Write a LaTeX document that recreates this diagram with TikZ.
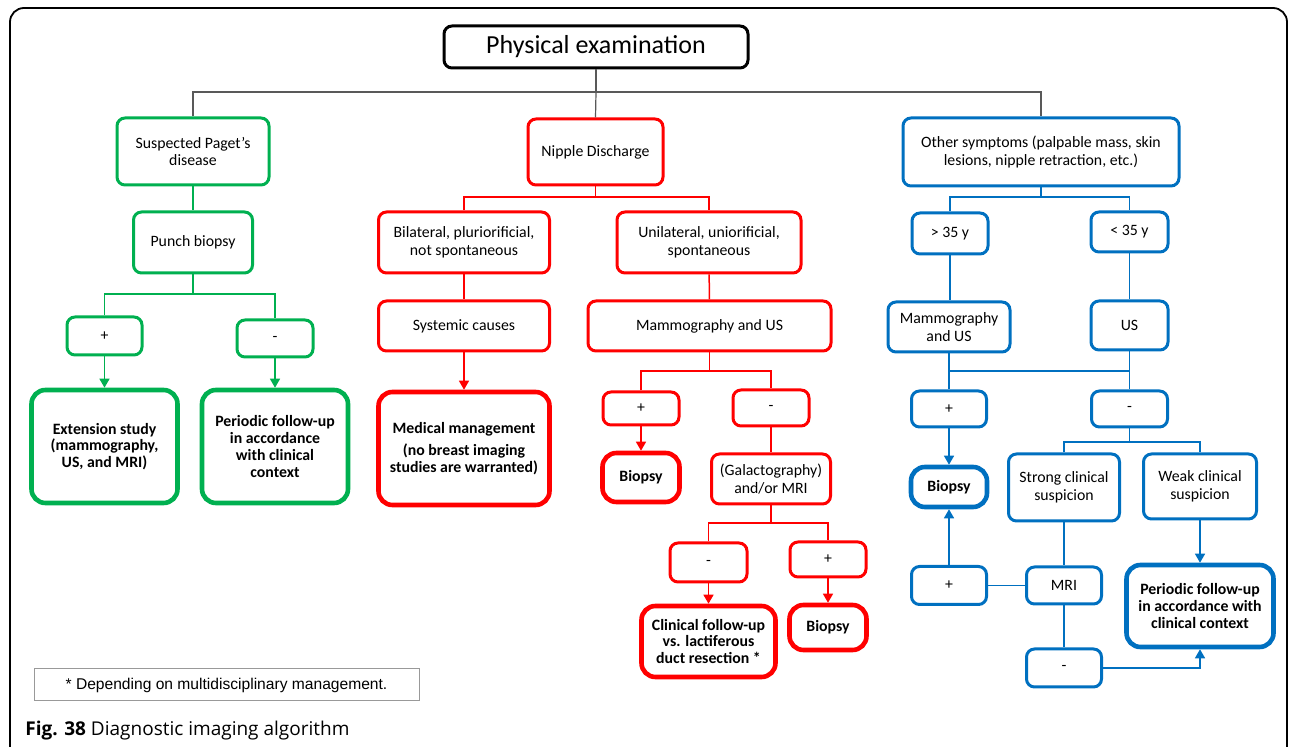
\documentclass[tikz,border=0pt]{standalone}
\usepackage{fontspec}
\setmainfont{Carlito}
\newfontfamily\arialfont{Liberation Sans}
\newfontfamily\capfont{Open Sans}
\usetikzlibrary{arrows.meta}
\definecolor{gg}{HTML}{00B050}
\definecolor{rr}{HTML}{FF0000}
\definecolor{bb}{HTML}{0070C0}
\definecolor{cg}{HTML}{595959}
\tikzset{
  base/.style={draw, rounded corners=4pt, line width=1.5pt, align=center, inner sep=0pt, fill=white,
    font=\fontsize{7.9}{8.9}\selectfont},
  sz/.style 2 args={minimum width=#1*0.5pt, minimum height=#2*0.5pt},
  res/.style={line width=2.3pt, rounded corners=7pt, font=\fontsize{7.9}{8.4}\selectfont\bfseries},
  gbox/.style={base, draw=gg},
  rbox/.style={base, draw=rr},
  bbox/.style={base, draw=bb},
  gl/.style={draw=gg, line width=0.75pt},
  rl/.style={draw=rr, line width=0.75pt},
  bl/.style={draw=bb, line width=0.75pt},
  kl/.style={draw=cg, line width=0.6pt},
  arr/.style={-{Triangle[width=5pt,length=4.5pt]}},
}
\begin{document}
\begin{tikzpicture}[x=0.5pt, y=-0.5pt]
\useasboundingbox (0,0) rectangle (1290,747);
\begin{scope}
\clip (0,0) rectangle (1290,747);
\draw[line width=0.9pt, rounded corners=7pt] (10,770) -- (10,8) -- (1287,8) -- (1287,770);
\end{scope}

% top
\node[base, draw=black, line width=1.5pt, rounded corners=4pt, sz={304}{42}, font=\fontsize{13}{14}\selectfont] (phys) at (596,47) {Physical examination};

% green column
\node[gbox, sz={152}{67}] (paget) at (193,151.5) {Suspected Paget’s\\disease};
\node[gbox, sz={119}{61}] (punch) at (193,242.5) {Punch biopsy};
\node[gbox, sz={75}{38}] (gp) at (104.5,336) {+};
\node[gbox, sz={76}{37}] (gm) at (275,338.5) {-};
\node[gbox, res, sz={146}{113}] (ext) at (104.5,446.5) {Extension study\\(mammography,\\US, and MRI)};
\node[gbox, res, sz={146}{113}] (gper) at (275,446.5) {Periodic follow-up\\in accordance\\with clinical\\context};

% red column
\node[rbox, sz={135}{66}] (nip) at (595.5,152) {Nipple Discharge};
\node[rbox, sz={171}{61}] (bil) at (464,242.5) {Bilateral, pluriorificial,\\not spontaneous};
\node[rbox, sz={184}{61}] (uni) at (709,242.5) {Unilateral, uniorificial,\\spontaneous};
\node[rbox, sz={171}{50}] (sys) at (464,326) {Systemic causes};
\node[rbox, sz={243}{50}] (rmam) at (709.5,326) {Mammography and US};
\node[rbox, res, sz={171}{113}] (med) at (464,448.5) {Medical management\\[3pt](no breast imaging\\studies are warranted)};
\node[rbox, sz={76}{33}] (rp) at (641,408.5) {+};
\node[rbox, sz={76}{36}] (rm) at (771,408) {-};
\node[rbox, res, sz={77}{49}] (rbio) at (641,477.5) {Biopsy};
\node[rbox, sz={119}{50}] (gal) at (771,479) {(Galactography)\\and/or MRI};
\node[rbox, sz={77}{39}] (rm2) at (708.5,562.5) {-};
\node[rbox, sz={76}{35}] (rp2) at (828,559.5) {+};
\node[rbox, res, sz={134}{71}] (clin) at (708.5,641.5) {Clinical follow-up\\vs. lactiferous\\duct resection *};
\node[rbox, res, sz={77}{45}] (rbio2) at (828,627.5) {Biopsy};

% blue column
\node[bbox, sz={276}{68}] (oth) at (1041,152) {Other symptoms (palpable mass, skin\\lesions, nipple retraction, etc.)};
\node[bbox, sz={76}{41}] (gt) at (950,233.5) {> 35 y};
\node[bbox, sz={77}{40}] (lt) at (1129.5,232) {< 35 y};
\node[bbox, sz={122}{50}] (bmam) at (949,327) {Mammography\\and US};
\node[bbox, sz={77}{49}] (bus) at (1129.5,325.5) {US};
\node[bbox, sz={75}{36}] (bp) at (949,409) {+};
\node[bbox, sz={76}{36}] (bm) at (1129.5,409) {-};
\node[bbox, res, sz={76}{40}] (bbio) at (949,487) {Biopsy};
\node[bbox, sz={111}{67}] (strong) at (1064,487.5) {Strong clinical\\suspicion};
\node[bbox, sz={113}{65}] (weak) at (1200,486.5) {Weak clinical\\suspicion};
\node[bbox, sz={75}{37}] (mri) at (1064,585.5) {MRI};
\node[bbox, sz={75}{38}] (bp2) at (949,585.5) {+};
\node[bbox, sz={75}{38}] (bm2) at (1064,668) {-};
\node[bbox, res, sz={147}{82}] (bper) at (1200,606) {Periodic follow-up\\in accordance with\\clinical context};

% footnote and caption
\node[draw=black!40, line width=0.5pt, sz={385}{32}, inner sep=0pt, font=\arialfont\fontsize{7.8}{9}\selectfont] (fn) at (226.5,685) {* Depending on multidisciplinary management.};
\node[anchor=base west, inner sep=0pt, font=\capfont\fontsize{9.5}{11}\selectfont] (cap) at (25,735) {\textbf{Fig. 38} Diagnostic imaging algorithm};

% connectors: top
\coordinate (j0) at (596,92);
\draw[kl] (phys.south) -- (j0);
\draw[kl] (paget.north) |- (j0) -| (oth.north);
\draw[kl] (j0) -- (nip.north);

% green
\coordinate (jg) at (193,294);
\draw[gl] (paget) -- (punch);
\draw[gl] (punch.south) -- (jg);
\draw[gl] (gp.north) |- (jg) -| (gm.north);
\draw[gl, arr] (gp) -- (ext);
\draw[gl, arr] (gm) -- (gper);

% red
\coordinate (jr1) at (595.5,197);
\draw[rl] (nip.south) -- (jr1);
\draw[rl] (bil.north) |- (jr1) -| (uni.north);
\draw[rl] (bil) -- (sys);
\draw[rl, arr] (sys) -- (med);
\draw[rl] (uni) -- (rmam);
\coordinate (jr2) at (709.5,371);
\draw[rl] (rmam.south) -- (jr2);
\draw[rl] (rp.north) |- (jr2) -| (rm.north);
\draw[rl, arr] (rp) -- (rbio);
\draw[rl] (rm) -- (gal);
\coordinate (jr3) at (771,523);
\draw[rl] (gal.south) -- (jr3);
\draw[rl] (rm2.north) |- (jr3) -| (rp2.north);
\draw[rl, arr] (rm2) -- (clin);
\draw[rl, arr] (rp2) -- (rbio2);

% blue
\coordinate (jb1) at (1041,197);
\draw[bl] (oth.south) -- (jb1);
\draw[bl] (gt.north) |- (jb1) -| (lt.north);
\draw[bl] (gt) -- (gt |- bmam.north);
\draw[bl] (lt) -- (bus);
\draw[bl] (bmam) -- (bp);
\draw[bl] (bus) -- (bm);
\coordinate (jb2) at (1129.5,371);
\draw[bl] (bmam.south |- jb2) -- (jb2);
\draw[bl, arr] (bp) -- (bbio);
\coordinate (jb3) at (1129.5,442);
\draw[bl] (bm.south) -- (jb3);
\draw[bl] (strong.north) |- (jb3) -| (weak.north);
\draw[bl] (strong) -- (mri);
\draw[bl] (mri) -- (bp2);
\draw[bl, arr] (bp2) -- (bbio);
\draw[bl] (mri) -- (bm2);
\draw[bl, arr] (bm2.east) -| (bper.south);
\draw[bl, arr] (weak) -- (bper);
\end{tikzpicture}
\end{document}
